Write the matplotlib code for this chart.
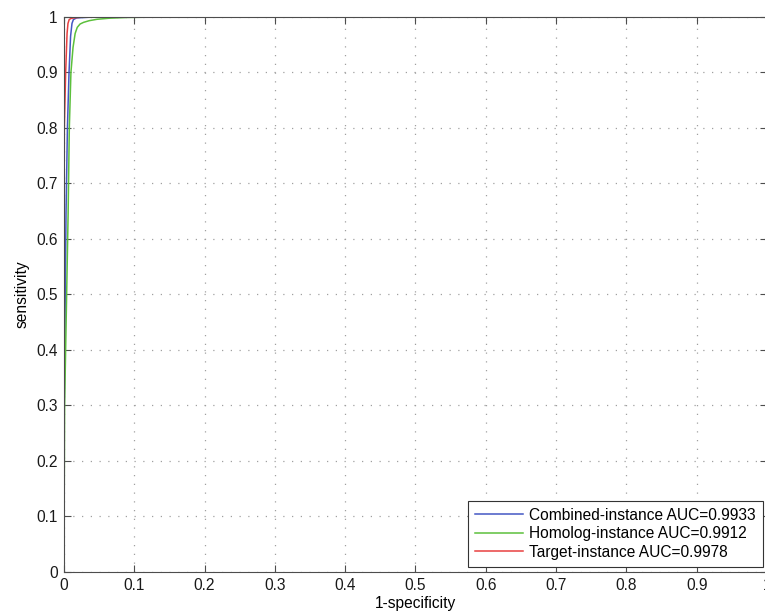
#!/usr/bin/env python3
"""ROC curves for the three instance models (combined / homolog / target)."""

import matplotlib
matplotlib.use("Agg")
import matplotlib.pyplot as plt

plt.rcParams["font.family"] = ["Liberation Sans", "DejaVu Sans"]

# values
combined_fpr = [0.0, 0.0005, 0.003, 0.005, 0.0073, 0.0095, 0.0115, 0.0135, 0.018, 0.04, 1.0]
combined_tpr = [0.0, 0.30, 0.645, 0.80, 0.90, 0.965, 0.988, 0.995, 0.998, 0.9995, 1.0]

homolog_fpr = [0.0, 0.001, 0.006, 0.0077, 0.010, 0.013, 0.016, 0.019, 0.023, 0.028, 0.036, 0.047, 0.065, 0.09, 0.13, 1.0]
homolog_tpr = [0.0, 0.30, 0.645, 0.80, 0.90, 0.945, 0.970, 0.981, 0.987, 0.990, 0.993, 0.9955, 0.9975, 0.9988, 0.9995, 1.0]

target_fpr = [0.0, 0.0001, 0.0003, 0.0006, 0.0025, 0.0045, 0.0058, 0.0075, 0.010, 0.014, 0.03, 1.0]
target_tpr = [0.0, 0.30, 0.645, 0.80, 0.90, 0.97, 0.988, 0.995, 0.997, 0.998, 1.0, 1.0]

labels = ["Combined-instance AUC=0.9933",
          "Homolog-instance AUC=0.9912",
          "Target-instance AUC=0.9978"]
xticks = [0, 0.1, 0.2, 0.3, 0.4, 0.5, 0.6, 0.7, 0.8, 0.9, 1]
xticklabels = ["0", "0.1", "0.2", "0.3", "0.4", "0.5", "0.6", "0.7", "0.8", "0.9", "1"]
yticks = [0, 0.1, 0.2, 0.3, 0.4, 0.5, 0.6, 0.7, 0.8, 0.9, 1]
yticklabels = ["0", "0.1", "0.2", "0.3", "0.4", "0.5", "0.6", "0.7", "0.8", "0.9", "1"]

axis_col = "#4d4d4d"
fs = 11.2

fig = plt.figure(figsize=(7.65, 6.16), dpi=100)
ax = fig.add_axes([63.9 / 765, 44 / 616, (767 - 63.9) / 765, 555.2 / 616])

ax.plot(combined_fpr, combined_tpr, color="#4457c4", lw=1.1, label=labels[0])
ax.plot(homolog_fpr, homolog_tpr, color="#5cc03c", lw=1.1, label=labels[1])
ax.plot(target_fpr, target_tpr, color="#e84040", lw=1.1, label=labels[2])

ax.set_xlim(0, 1)
ax.set_ylim(0, 1)
ax.set_xticks(xticks)
ax.set_xticklabels(xticklabels)
ax.set_yticks(yticks)
ax.set_yticklabels(yticklabels)
ax.tick_params(direction="in", length=5, width=0.8, color=axis_col,
               labelsize=fs, labelcolor="#1a1a1a", top=True, right=True)
ax.tick_params(axis="x", pad=4.5)
ax.tick_params(axis="y", pad=4.5)
for s in ax.spines.values():
    s.set_color(axis_col)
    s.set_linewidth(0.8)

ax.grid(True, color="#a0a0a0", linestyle=(0, (1, 6)), linewidth=0.9)

ax.set_xlabel("1-specificity", fontsize=fs, labelpad=2)
ax.set_ylabel("sensitivity", fontsize=fs, labelpad=5)

leg = ax.legend(loc="lower right", bbox_to_anchor=((763 - 63.9) / 703.1, (572 - 566.7) / 555.2),
                fontsize=fs, frameon=True, fancybox=False, framealpha=1,
                edgecolor="#333333", handlelength=3.1, handletextpad=0.4,
                borderpad=0.45, labelspacing=0.22, borderaxespad=0)
leg.get_frame().set_linewidth(0.8)

fig.savefig("out.png", dpi=100)
